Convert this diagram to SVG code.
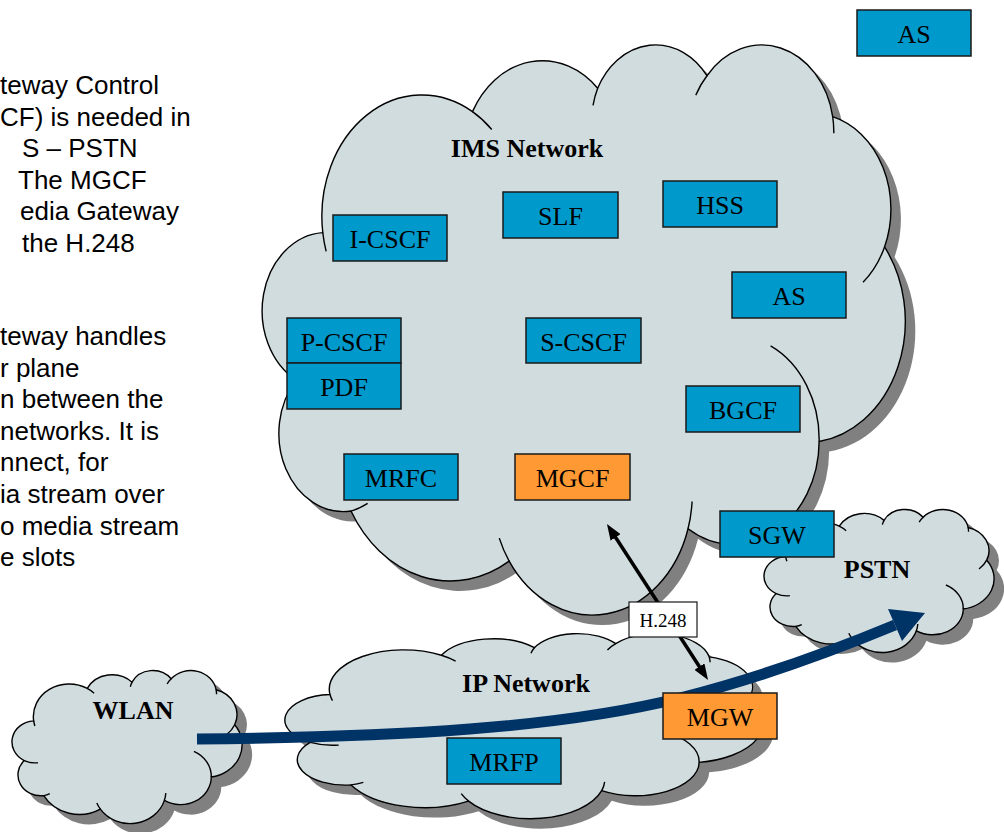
<svg xmlns="http://www.w3.org/2000/svg" xmlns:xlink="http://www.w3.org/1999/xlink" width="1004" height="832" viewBox="0 0 1004 832">
<style>
.cloud{fill:#D1DCDF;stroke:#000;stroke-width:1.4}
.cshadow{fill:#808080;stroke:none}
.cline{fill:none;stroke:#000;stroke-width:1.4}
.ctitle{font-family:"Liberation Serif","Times New Roman",serif;font-size:26px;font-weight:bold;text-anchor:middle;fill:#000}
.box{fill:#0099CC;stroke:#1a1a1a;stroke-width:1.5}
.obox{fill:#FF9933;stroke:#1a1a1a;stroke-width:1.5}
.lbl{font-family:"Liberation Serif","Times New Roman",serif;font-size:26px;text-anchor:middle;fill:#000}
.side{font-family:"Liberation Sans",Arial,sans-serif;font-size:26px;fill:#000}
.flow{fill:none;stroke:#003366;stroke-width:11}
.h248{fill:none;stroke:#000;stroke-width:3.5}
</style>
<defs>
<path id="cloud" vector-effect="non-scaling-stroke" d="M39,143.7 A67.53,91.9 0 0 1 140.05,52.02 A53.33,72.67 0 0 1 224.56,34.32 A43.65,59.45 0 0 1 298.33,24.81 A48.57,65.95 0 0 1 383.18,55.77 A53.33,72.73 0 0 1 418.18,154.61 A67.75,92.2 0 0 1 374.04,302.05 A57.85,78.67 0 0 1 285.56,368.15 A67.52,92.15 0 0 1 164.8,392.67 A77.2,105.43 0 0 1 58.05,354.75 A43.6,59.18 0 0 1 21.12,255.55 A43.45,59.45 0 0 1 39,143.7 Z"/>
<path id="cloudIn" vector-effect="non-scaling-stroke" d="M46.93,261.77 A43.45,59.45 0 0 1 21.12,255.55 M69.28,348.99 A43.6,59.18 0 0 1 58.05,354.75 M164.8,392.67 A67.52,92.15 0 0 1 158.12,375.27 M288.27,347.51 A67.52,92.15 0 0 1 285.56,368.15 M341.29,229.54 A57.85,78.67 0 0 1 374.04,302.05 M418.18,154.61 A53.33,72.73 0 0 1 403.68,181.39 M383.18,55.77 A48.57,65.95 0 0 1 383.94,68.41 M290.78,39.52 A48.57,65.95 0 0 1 298.33,24.81 M221.41,47.2 A43.65,59.45 0 0 1 224.56,34.32 M140.05,52.02 A67.53,91.9 0 0 1 153.05,65.51 M41.27,157.89 A67.53,91.9 0 0 1 39,143.7"/>
<marker id="ah" viewBox="0 0 16 12" refX="8" refY="6" markerWidth="16" markerHeight="12" markerUnits="userSpaceOnUse" orient="auto-start-reverse">
<path d="M0,0 L16,6 L0,12 Z" fill="#000"/>
</marker>
</defs>

<g id="description">
<text class="side" x="0" y="94">teway Control</text>
<text class="side" x="0" y="126">CF) is needed in</text>
<text class="side" x="22" y="157">S – PSTN</text>
<text class="side" x="18" y="189">The MGCF</text>
<text class="side" x="20" y="220">edia Gateway</text>
<text class="side" x="22" y="252">the H.248</text>
<text class="side" x="0" y="345">teway handles</text>
<text class="side" x="0" y="377">r plane</text>
<text class="side" x="0" y="408">n between the</text>
<text class="side" x="0" y="440">networks. It is</text>
<text class="side" x="0" y="471">nnect, for</text>
<text class="side" x="0" y="503">ia stream over</text>
<text class="side" x="0" y="535">o media stream</text>
<text class="side" x="0" y="566">e slots</text>
</g>

<g id="ims-network">
<g transform="translate(275,53) scale(1.4815,1.3194)"><use xlink:href="#cloud" class="cshadow"/></g>
<g transform="translate(265,43) scale(1.4815,1.3194)"><use xlink:href="#cloud" class="cloud"/><use xlink:href="#cloudIn" class="cline"/></g>
<text class="ctitle" x="527" y="157">IMS Network</text>
</g>

<g id="ip-network">
<g transform="translate(297,643) scale(1.1019,0.4282)"><use xlink:href="#cloud" class="cshadow"/></g>
<g transform="translate(287,633) scale(1.1019,0.4282)"><use xlink:href="#cloud" class="cloud"/><use xlink:href="#cloudIn" class="cline"/></g>
<text class="ctitle" x="526" y="692">IP Network</text>
</g>

<g id="wlan">
<g transform="translate(23,680) scale(0.5301,0.3542)"><use xlink:href="#cloud" class="cshadow"/></g>
<g transform="translate(13,670) scale(0.5301,0.3542)"><use xlink:href="#cloud" class="cloud"/><use xlink:href="#cloudIn" class="cline"/></g>
<text class="ctitle" x="133" y="719">WLAN</text>
</g>

<g id="pstn">
<g transform="translate(775,519) scale(0.5301,0.331)"><use xlink:href="#cloud" class="cshadow"/></g>
<g transform="translate(765,509) scale(0.5301,0.331)"><use xlink:href="#cloud" class="cloud"/><use xlink:href="#cloudIn" class="cline"/></g>
<text class="ctitle" x="877" y="578">PSTN</text>
</g>

<g id="connectors">
<path class="flow" d="M197,739 C400,737 560,728 680,698 C760,678 830,652 895,625"/>
<polygon points="925,613 888,609 902,641" fill="#003366"/>
<line class="h248" x1="611.3" y1="530.7" x2="703.7" y2="673.3" marker-start="url(#ah)" marker-end="url(#ah)"/>
</g>

<g id="node-as-top"><rect class="box" x="857" y="10" width="114" height="46"/><text class="lbl" x="914" y="43">AS</text></g>
<g id="node-hss"><rect class="box" x="663" y="181" width="114" height="46"/><text class="lbl" x="720" y="214">HSS</text></g>
<g id="node-slf"><rect class="box" x="503" y="192" width="115" height="46"/><text class="lbl" x="560.5" y="225">SLF</text></g>
<g id="node-icscf"><rect class="box" x="333" y="215" width="114" height="46"/><text class="lbl" x="390" y="248">I-CSCF</text></g>
<g id="node-as"><rect class="box" x="732" y="272" width="114" height="46"/><text class="lbl" x="789" y="305">AS</text></g>
<g id="node-pcscf"><rect class="box" x="287" y="318" width="114" height="45"/><text class="lbl" x="344" y="351">P-CSCF</text></g>
<g id="node-pdf"><rect class="box" x="287" y="363" width="114" height="46"/><text class="lbl" x="344" y="396">PDF</text></g>
<g id="node-scscf"><rect class="box" x="526" y="318" width="115" height="45"/><text class="lbl" x="583.5" y="351">S-CSCF</text></g>
<g id="node-bgcf"><rect class="box" x="686" y="386" width="114" height="46"/><text class="lbl" x="743" y="419">BGCF</text></g>
<g id="node-mrfc"><rect class="box" x="344" y="454" width="114" height="46"/><text class="lbl" x="401" y="487">MRFC</text></g>
<g id="node-mgcf"><rect class="obox" x="515" y="454" width="115" height="46"/><text class="lbl" x="572.5" y="487">MGCF</text></g>
<g id="node-sgw"><rect class="box" x="720" y="511" width="114" height="46"/><text class="lbl" x="777" y="544">SGW</text></g>
<g id="node-mgw"><rect class="obox" x="663" y="693" width="114" height="46"/><text class="lbl" x="720" y="726">MGW</text></g>
<g id="node-mrfp"><rect class="box" x="447" y="738" width="114" height="46"/><text class="lbl" x="504" y="771">MRFP</text></g>
<g id="label-h248"><rect x="629" y="602" width="68" height="35" fill="#fff" stroke="#1a1a1a" stroke-width="1.2"/><text x="663" y="627" font-family="Liberation Serif,'Times New Roman',serif" font-size="19" text-anchor="middle">H.248</text></g>
</svg>
